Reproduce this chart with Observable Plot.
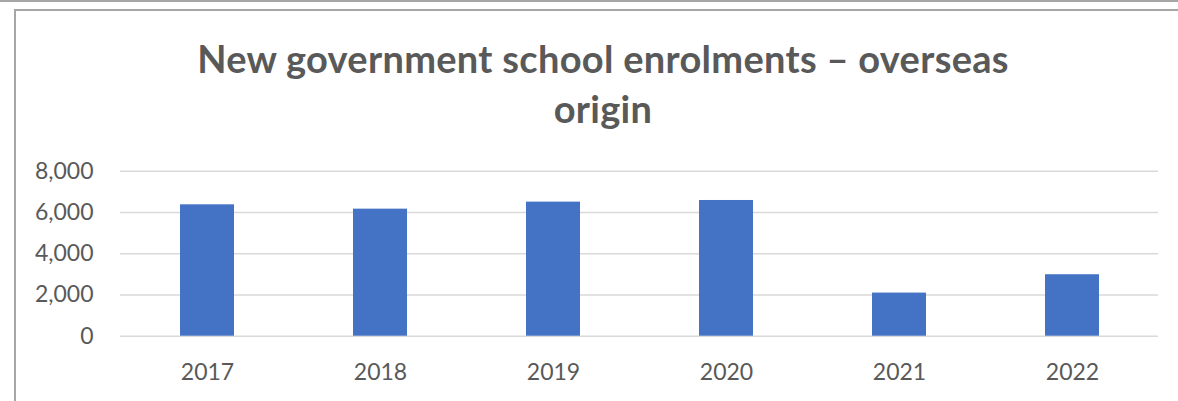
<!DOCTYPE html>
<html>
<head>
<meta charset="utf-8">
<script src="https://cdn.jsdelivr.net/npm/d3@7"></script>
<script src="https://cdn.jsdelivr.net/npm/@observablehq/plot@0.6"></script>
<style>
  html, body { margin: 0; padding: 0; background: #fff; }
  #wrap { position: relative; width: 1178px; height: 401px; overflow: hidden; background: #fff; }
  #topline { position: absolute; left: 0; top: 0; width: 1178px; height: 2px; background: #a6a6a6; }
  #frame { position: absolute; left: 14px; top: 9px; width: 1200px; height: 420px;
           border-top: 2px solid #a6a6a6; border-left: 2px solid #a6a6a6; box-sizing: border-box; }
  #title { position: absolute; left: 3px; top: 33px; width: 1200px; text-align: center;
           font-family: Lato, "Open Sans", sans-serif; font-weight: bold; font-size: 38px;
           letter-spacing: 0.3px; line-height: 50px; color: #595959; white-space: nowrap; }
  #chart { position: absolute; left: 0; top: 150px; }
</style>
</head>
<body>
<div id="wrap">
  <div id="topline"></div>
  <div id="frame"></div>
  <div id="title">New government school enrolments – overseas<br>origin</div>
  <div id="chart"></div>
</div>
<script>
const years = ["2017", "2018", "2019", "2020", "2021", "2022"];
const enrolments = [6370, 6160, 6500, 6580, 2090, 2980];
const yTicks = [0, 2000, 4000, 6000, 8000];

const data = years.map((year, i) => ({year, value: enrolments[i]}));

const chart = Plot.plot({
  width: 1178,
  height: 251,
  marginTop: 20.7,
  marginBottom: 65.3,
  marginLeft: 120,
  marginRight: 20,
  style: {fontFamily: "Lato, 'Open Sans', sans-serif", fontSize: "23px", color: "#595959", background: "transparent"},
  x: {domain: years, paddingInner: 0.69, paddingOuter: 0.345, label: null, tickSize: 0, tickPadding: 27},
  y: {domain: [0, 8000], ticks: yTicks, tickFormat: d3.format(","), label: null, tickSize: 0, tickPadding: 27},
  marks: [
    Plot.ruleY(yTicks, {stroke: "#d9d9d9", strokeWidth: 1.5}),
    Plot.barY(data, {x: "year", y: "value", fill: "#4472C4"})
  ]
});
document.getElementById("chart").appendChild(chart);
</script>
</body>
</html>
